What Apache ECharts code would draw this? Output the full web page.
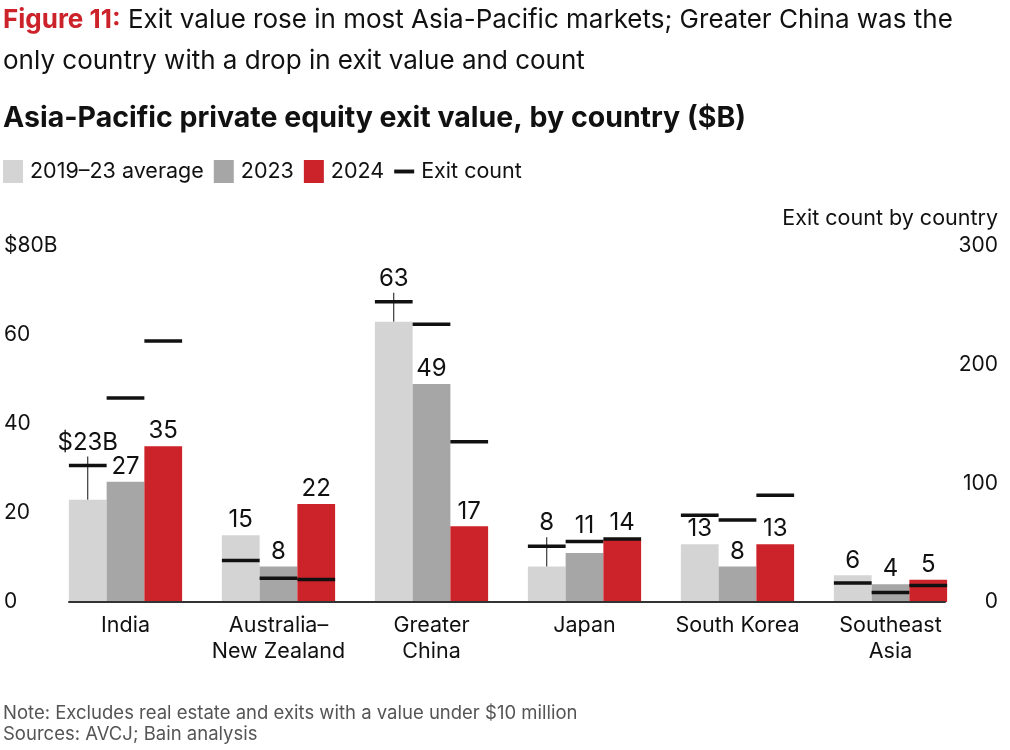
<!DOCTYPE html>
<html>
<head>
<meta charset="utf-8">
<script src="https://cdn.jsdelivr.net/npm/echarts@6/dist/echarts.min.js"></script>
<style>
  html, body { margin: 0; padding: 0; background: #fff; }
  #chart { width: 1010px; height: 750px; }
</style>
</head>
<body>
<div id="chart"></div>
<script>
// data
var categories = ['India', 'Australia–\nNew Zealand', 'Greater\nChina', 'Japan', 'South Korea', 'Southeast\nAsia'];
var seriesNames = ['2019–23 average', '2023', '2024'];
var valueAvg = [23, 15, 63, 8, 13, 6];
var value2023 = [27, 8, 49, 11, 8, 4];
var value2024 = [35, 22, 17, 14, 13, 5];
var countAvg = [115, 35, 253, 47, 73, 16];
var count2023 = [172, 20, 234, 51, 69, 8];
var count2024 = [220, 19, 135, 53, 90, 14];
var valueTicks = [0, 20, 40, 60, 80];
var countTicks = [0, 100, 200, 300];

var values = [valueAvg, value2023, value2024];
var colors = ['#d4d4d4', '#a6a6a6', '#cc2229'];
var FONT = 'Inter, "Noto Sans", sans-serif';
var CAT_GAP = 0.26;
var valueMax = valueTicks[valueTicks.length - 1];
var countMax = countTicks[countTicks.length - 1];

// labels that sit above the exit-count dash instead of the bar ("cat-series")
var labelOverDash = { '0-0': 'leader', '2-0': 'leader', '3-0': 'leader', '3-1': 'plain', '3-2': 'plain' };

var chart = echarts.init(document.getElementById('chart'));

var barSeries = seriesNames.map(function (name, j) {
  return {
    name: name,
    type: 'bar',
    barGap: 0,
    barCategoryGap: (CAT_GAP * 100) + '%',
    itemStyle: { color: colors[j] },
    data: values[j],
    z: 2
  };
});

var countSeries = {
  name: 'Exit count',
  type: 'custom',
  yAxisIndex: 1,
  z: 5,
  itemStyle: { color: '#111' },
  encode: { x: 0, y: [1, 2, 3] },
  data: categories.map(function (c, i) { return [i, countAvg[i], count2023[i], count2024[i]]; }),
  renderItem: function (params, api) {
    var cat = api.value(0);
    var bw = api.size([1, 0])[0] * (1 - CAT_GAP) / 3;
    var cx = api.coord([cat, 0])[0];
    var children = [];
    for (var j = 0; j < 3; j++) {
      var y = api.coord([cat, api.value(j + 1)])[1];
      children.push({
        type: 'rect',
        shape: { x: cx + (j - 1) * bw - bw / 2, y: y - 1.75, width: bw, height: 3.5 },
        style: { fill: '#111' }
      });
    }
    return { type: 'group', children: children };
  }
};

var labelSeries = {
  name: 'labels',
  type: 'custom',
  z: 6,
  silent: true,
  encode: { x: 0, y: [1, 2, 3] },
  data: categories.map(function (c, i) {
    return [i, valueAvg[i], value2023[i], value2024[i], countAvg[i], count2023[i], count2024[i]];
  }),
  renderItem: function (params, api) {
    var cat = api.value(0);
    var bw = api.size([1, 0])[0] * (1 - CAT_GAP) / 3;
    var cx = api.coord([cat, 0])[0];
    var children = [];
    for (var j = 0; j < 3; j++) {
      var v = api.value(j + 1);
      var x = cx + (j - 1) * bw;
      var barTop = api.coord([cat, v])[1];
      // exit count converted onto the value axis
      var dashY = api.coord([cat, api.value(j + 4) * valueMax / countMax])[1];
      var mode = labelOverDash[cat + '-' + j];
      var ty = barTop - 15;
      if (mode === 'leader') {
        ty = dashY - 23;
        children.push({
          type: 'line',
          shape: { x1: x, y1: barTop, x2: x, y2: dashY - 9 },
          style: { stroke: '#111', lineWidth: 1 }
        });
      } else if (mode === 'plain') {
        ty = dashY - 16;
      }
      var txt = (cat === 0 && j === 0) ? '$' + v + 'B' : String(v);
      children.push({
        type: 'text',
        style: {
          text: txt, x: x, y: ty, align: 'center', verticalAlign: 'middle',
          fontSize: 24, fontFamily: FONT, fill: '#111'
        }
      });
    }
    return { type: 'group', children: children };
  }
};

chart.setOption({
  animation: false,
  textStyle: { fontFamily: FONT },
  title: [
    {
      text: '{red|Figure 11:} Exit value rose in most Asia-Pacific markets; Greater China was the\nonly country with a drop in exit value and count',
      left: 3, top: 0, padding: 0,
      textStyle: {
        fontSize: 26, fontWeight: 'normal', color: '#111', lineHeight: 41, fontFamily: FONT,
        rich: { red: { color: '#cc2229', fontWeight: 'bold', fontSize: 26, fontFamily: FONT } }
      }
    },
    {
      text: 'Asia-Pacific private equity exit value, by country ($B)',
      left: 3, top: 104, padding: 0,
      textStyle: { fontSize: 28.5, fontWeight: 'bold', color: '#111', fontFamily: FONT }
    },
    {
      text: 'Exit count by country',
      right: 12, top: 208, padding: 0,
      textStyle: { fontSize: 21.5, fontWeight: 'normal', color: '#111', fontFamily: FONT }
    },
    {
      text: 'Note: Excludes real estate and exits with a value under $10 million\nSources: AVCJ; Bain analysis',
      left: 3, top: 703, padding: 0,
      textStyle: { fontSize: 18.5, fontWeight: 'normal', color: '#555', lineHeight: 21, fontFamily: FONT }
    }
  ],
  legend: {
    left: 3, top: 160, padding: 0,
    itemWidth: 20, itemHeight: 23, itemGap: 10,
    textStyle: { fontSize: 21.5, color: '#111', fontFamily: FONT, padding: [0, 0, 0, 2] },
    data: [
      { name: seriesNames[0], icon: 'rect' },
      { name: seriesNames[1], icon: 'rect' },
      { name: seriesNames[2], icon: 'rect' },
      { name: 'Exit count', icon: 'path://M0 0H18V3.5H0Z' }
    ]
  },
  grid: [
    { left: 49, right: 43, top: 246, bottom: 148 },
    { left: 69, right: 65, top: 246, bottom: 148 }
  ],
  xAxis: [
    {
      type: 'category', gridIndex: 0, data: categories,
      axisLine: { show: false }, axisTick: { show: false },
      axisLabel: { fontSize: 21.5, color: '#111', lineHeight: 26, margin: 11, interval: 0, fontFamily: FONT }
    },
    {
      type: 'category', gridIndex: 1, data: categories,
      axisLine: { show: true, lineStyle: { color: '#333', width: 2 } },
      axisTick: { show: false }, axisLabel: { show: false }, z: 10
    }
  ],
  yAxis: [
    {
      type: 'value', gridIndex: 0, min: valueTicks[0], max: valueMax, interval: valueTicks[1] - valueTicks[0],
      splitLine: { show: false }, axisLine: { show: false }, axisTick: { show: false },
      axisLabel: {
        fontSize: 21, color: '#111', align: 'left', margin: 45, fontFamily: FONT,
        formatter: function (v) { return v === valueMax ? '$' + v + 'B' : String(v); }
      }
    },
    {
      type: 'value', gridIndex: 0, position: 'right', min: countTicks[0], max: countMax,
      interval: countTicks[1] - countTicks[0],
      splitLine: { show: false }, axisLine: { show: false }, axisTick: { show: false },
      axisLabel: { fontSize: 21, color: '#111', align: 'right', margin: 31, fontFamily: FONT }
    },
    {
      type: 'value', gridIndex: 1, min: 0, max: valueMax, show: false
    }
  ],
  series: barSeries.concat([countSeries, labelSeries])
});
</script>
</body>
</html>
